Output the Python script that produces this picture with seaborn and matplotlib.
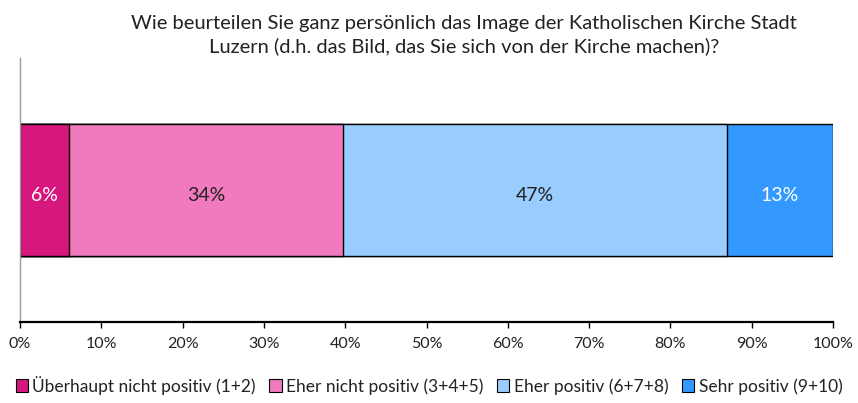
import matplotlib.pyplot as plt
import numpy as np
import seaborn as sns
from matplotlib.patches import Patch
from matplotlib.ticker import PercentFormatter

# data
categories = [
    "Überhaupt nicht positiv (1+2)",
    "Eher nicht positiv (3+4+5)",
    "Eher positiv (6+7+8)",
    "Sehr positiv (9+10)",
]
shares = [6.0, 33.7, 47.2, 13.1]
colors = ["#D6187E", "#F07ABD", "#99CCFF", "#3399FF"]
label_colors = ["white", "#222222", "#222222", "white"]
title = ("Wie beurteilen Sie ganz persönlich das Image der Katholischen Kirche Stadt\n"
         "Luzern (d.h. das Bild, das Sie sich von der Kirche machen)?")

sns.set_style("white")
plt.rcParams["font.family"] = ["Lato", "DejaVu Sans"]

fig = plt.figure(figsize=(8.58, 4.03), dpi=100)
ax = fig.add_axes([0.0233, 0.201, 0.9477, 0.655])

cum = np.cumsum(shares)
# draw cumulative totals from the largest down so they stack
for i in reversed(range(len(shares))):
    sns.barplot(x=[cum[i]], y=[""], orient="h", color=colors[i], width=0.5,
                edgecolor="black", linewidth=1, saturation=1, ax=ax)

starts = cum - np.array(shares)
for s, v, c in zip(starts, shares, label_colors):
    ax.text(s + v / 2, 0.02, f"{round(v):.0f}%", ha="center", va="center",
            fontsize=14, color=c)

ax.set_xlim(0, 100)
ax.set_ylim(0.5, -0.5)
ax.set_xticks(np.arange(0, 101, 10))
ax.xaxis.set_major_formatter(PercentFormatter(decimals=0))
ax.set_yticks([])
ax.set_xlabel("")
ax.set_ylabel("")
ax.tick_params(axis="x", direction="out", length=4, width=1, color="black",
               labelsize=11.5, labelcolor="#222222", pad=7, bottom=True)
for side in ["top", "right"]:
    ax.spines[side].set_visible(False)
ax.spines["bottom"].set_color("black")
ax.spines["bottom"].set_linewidth(1.6)
ax.spines["left"].set_color("#999999")
ax.spines["left"].set_linewidth(1)

fig.suptitle(title, fontsize=14.5, x=0.541, y=0.962, va="top", linespacing=1.3,
             color="#222222")

handles = [Patch(facecolor=c, edgecolor="black", linewidth=0.8) for c in colors]
fig.legend(handles, categories, loc="lower center", bbox_to_anchor=(0.5, -0.018),
           ncol=4, frameon=False, fontsize=12.5, handlelength=0.7,
           handleheight=0.7, handletextpad=0.25, columnspacing=0.8,
           labelcolor="#222222")

fig.savefig("out.png", dpi=100)
